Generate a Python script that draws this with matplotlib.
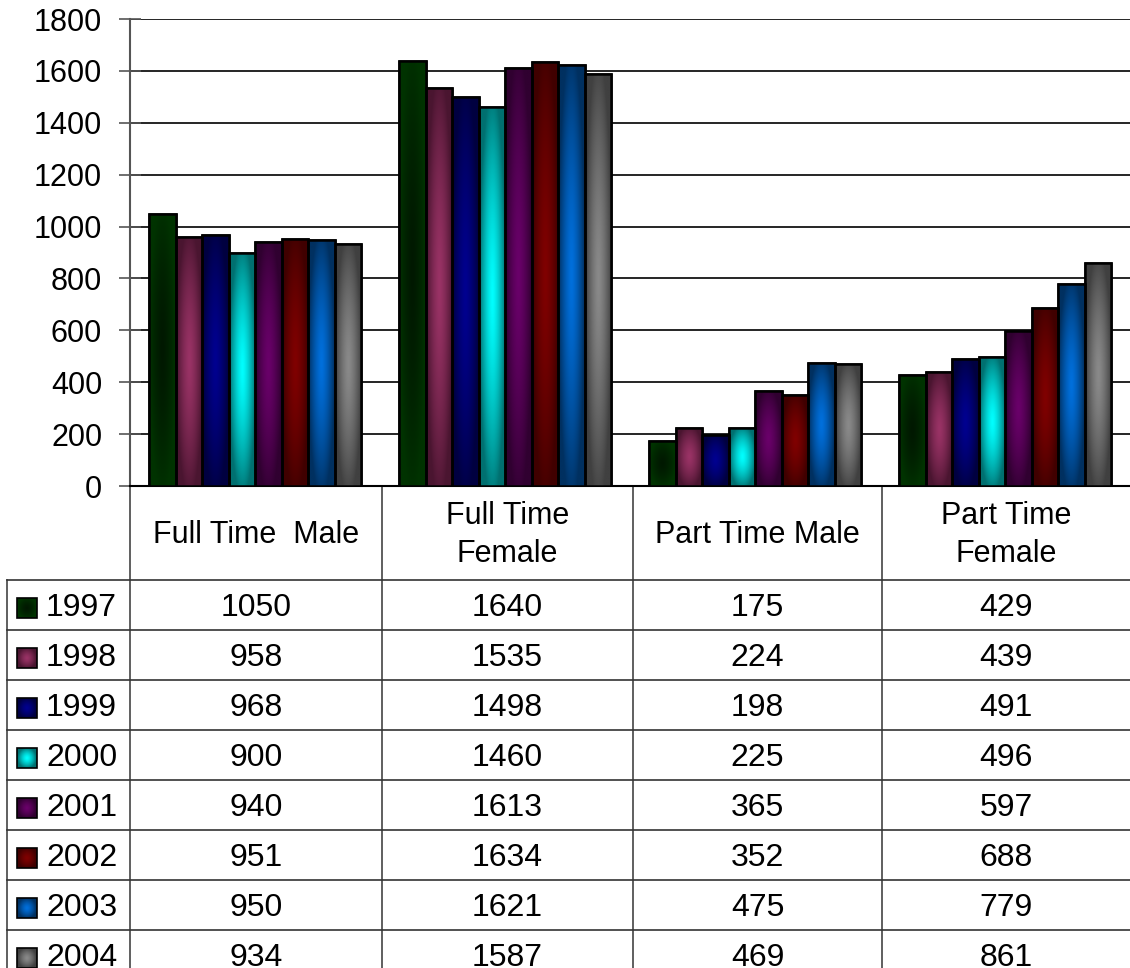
import numpy as np
import matplotlib.pyplot as plt
from matplotlib.colors import to_rgb
from matplotlib.patches import Rectangle

plt.rcParams['font.family'] = ['Liberation Sans', 'DejaVu Sans']

# ===== data =====
categories = ['Full Time  Male', 'Full Time\nFemale', 'Part Time Male', 'Part Time\nFemale']
years = ['1997', '1998', '1999', '2000', '2001', '2002', '2003', '2004']
values = {
    '1997': [1050, 1640, 175, 429],
    '1998': [958, 1535, 224, 439],
    '1999': [968, 1498, 198, 491],
    '2000': [900, 1460, 225, 496],
    '2001': [940, 1613, 365, 597],
    '2002': [951, 1634, 352, 688],
    '2003': [950, 1621, 475, 779],
    '2004': [934, 1587, 469, 861],
}
yticks = [0, 200, 400, 600, 800, 1000, 1200, 1400, 1600, 1800]

# (edge colour, centre colour) for the shaded bars
shades = {
    '1997': ('#003300', '#001800'),
    '1998': ('#4a1530', '#9a3366'),
    '1999': ('#000040', '#000090'),
    '2000': ('#007070', '#00ffff'),
    '2001': ('#300030', '#6a006a'),
    '2002': ('#400000', '#800000'),
    '2003': ('#003060', '#0070dd'),
    '2004': ('#404040', '#8a8a8a'),
}


def glow(edge, centre, n=48):
    # elliptical shading: light in the middle of the bar, dark towards its sides
    u = np.linspace(-1, 1, n)
    r = np.hypot(u[None, :], 0.9 * u[:, None])
    t = np.clip(r, 0, 1)[:, :, None] ** 1.4
    e, c = np.array(to_rgb(edge)), np.array(to_rgb(centre))
    return c + (e - c) * t


W, H = 1130, 968
fig = plt.figure(figsize=(W / 100, H / 100), dpi=100)

# overlay in pixel coordinates for the table under the chart
tab = fig.add_axes([0, 0, 1, 1])
tab.axis('off')

ax_left, ax_right = 130, 1130
ax_top, ax_bottom = 19, 486
ax = fig.add_axes([ax_left / W, 1 - ax_bottom / H, (ax_right - ax_left) / W, (ax_bottom - ax_top) / H])
ax.patch.set_alpha(0)

n = len(years)
bw = 0.106
x = np.arange(len(categories))

for i, yr in enumerate(years):
    offs = (i - (n - 1) / 2) * bw
    bars = ax.bar(x + offs, values[yr], bw, color=shades[yr][0],
                  edgecolor='black', linewidth=1.8, zorder=3)
    img = glow(*shades[yr])
    for b in bars:
        x0, y0 = b.get_x(), b.get_y()
        im = ax.imshow(img, aspect='auto', zorder=3.5, interpolation='bilinear',
                       extent=(x0, x0 + b.get_width(), y0, y0 + b.get_height()))
        im.set_clip_path(b)
        ax.add_patch(Rectangle((x0, y0), b.get_width(), b.get_height(),
                               fill=False, edgecolor='black', linewidth=1.8, zorder=4))

ax.set_xlim(-0.5, len(categories) - 0.5)
ax.set_ylim(0, 1800)
ax.set_yticks(yticks)
ax.set_xticks([])
ax.tick_params(axis='y', labelsize=22, direction='inout', length=16, width=1.2, color='#555555', pad=12)
ax.grid(axis='y', color='black', linewidth=1.2)
ax.set_axisbelow(True)
for s in ['top', 'right']:
    ax.spines[s].set_visible(False)
ax.spines['left'].set_color('#555555')
ax.spines['left'].set_linewidth(1.5)
ax.spines['bottom'].set_linewidth(1.5)

# ===== data table =====
col_edges = [130, 382, 633, 882, 1130]
row_edges = [486, 580, 630, 680, 730, 780, 830, 880, 930, 980]
left_edge = 7

lw = 1.2
for c in col_edges[:-1]:
    tab.plot([c, c], [486, 980], color='#444444', lw=lw)
tab.plot([left_edge, left_edge], [580, 980], color='#444444', lw=lw)
for r in row_edges[1:-1]:
    tab.plot([left_edge, 1130], [r, r], color='#333333', lw=lw)

# header
for j, cat in enumerate(categories):
    cx = (col_edges[j] + col_edges[j + 1]) / 2
    cy = (row_edges[0] + row_edges[1]) / 2 + 2
    tab.text(cx, cy, cat, ha='center', va='center', fontsize=22, linespacing=1.32)

# rows
for i, yr in enumerate(years):
    cy = (row_edges[i + 1] + row_edges[i + 2]) / 2 + 3
    tab.imshow(glow(*shades[yr], n=16), extent=(17, 37, cy + 10, cy - 10),
               interpolation='bilinear', zorder=2)
    tab.add_patch(Rectangle((17, cy - 10), 20, 20, fill=False, edgecolor='black', lw=1.2, zorder=3))
    tab.text(46, cy, yr, ha='left', va='center', fontsize=23)
    for j in range(len(categories)):
        cx = (col_edges[j] + col_edges[j + 1]) / 2
        tab.text(cx, cy, str(values[yr][j]), ha='center', va='center', fontsize=23)

tab.set_xlim(0, W)
tab.set_ylim(H, 0)
tab.set_aspect('auto')

fig.savefig('out.png', dpi=100, facecolor='white')
